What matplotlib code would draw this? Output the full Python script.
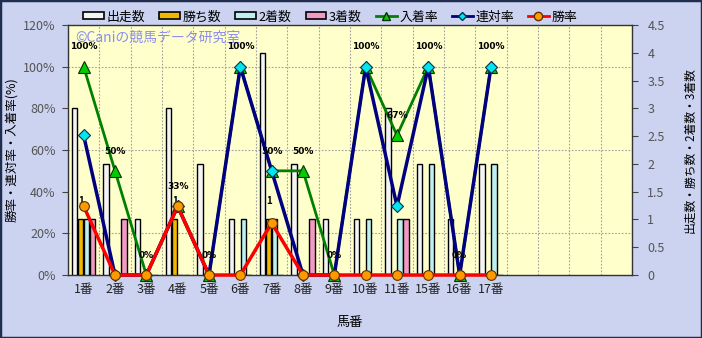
import numpy as np
import matplotlib
matplotlib.use("Agg")
import matplotlib.pyplot as plt
from matplotlib.patches import Patch
from matplotlib.lines import Line2D

plt.rcParams['font.family'] = ['Noto Sans CJK JP', 'DejaVu Sans']

# ---- data ----
horses = ["1番", "2番", "3番", "4番", "5番", "6番", "7番", "8番", "9番", "10番", "11番", "15番", "16番", "17番"]
n_slots = 18
starts = [3, 2, 1, 3, 2, 1, 4, 2, 1, 1, 3, 2, 1, 2]
wins = [1, 0, 0, 1, 0, 0, 1, 0, 0, 0, 0, 0, 0, 0]
seconds = [1, 0, 0, 0, 0, 1, 1, 0, 0, 1, 1, 2, 0, 2]
thirds = [1, 1, 0, 0, 0, 0, 0, 1, 0, 0, 1, 0, 0, 0]
place_rate = [100, 50, 0, 33, 0, 100, 50, 50, 0, 100, 67, 100, 0, 100]
top2_rate = [67, 0, 0, 33, 0, 100, 50, 0, 0, 100, 33, 100, 0, 100]
win_rate = [33, 0, 0, 33, 0, 0, 25, 0, 0, 0, 0, 0, 0, 0]

W, H = 702, 338
fig = plt.figure(figsize=(W / 100, H / 100), dpi=100)
fig.patch.set_facecolor('#ccd3f0')

# border
fig.add_artist(plt.Rectangle((0, 0), 1, 1, transform=fig.transFigure, fill=False,
                             edgecolor='#1f2d4f', linewidth=2.5))

left, right, top, bottom = 68, 632, 25, 275
rect = [left / W, 1 - bottom / H, (right - left) / W, (bottom - top) / H]

ax = fig.add_axes(rect)  # bars, right scale
ax2 = ax.twinx()  # lines, left scale
ax.set_facecolor('#ffffcc')
ax2.patch.set_visible(False)

x = np.arange(len(horses))
bw = 0.19
bar_specs = [(starts, '#f4f4f4', '出走数'), (wins, '#f2b700', '勝ち数'),
             (seconds, '#bff0f0', '2着数'), (thirds, '#f09ac4', '3着数')]
for i, (vals, col, lab) in enumerate(bar_specs):
    ax.bar(x + (i - 1.5) * bw, vals, width=bw * 0.92, color=col, edgecolor='black',
           linewidth=1.0, zorder=3, label=lab)

ax.set_xlim(-0.5, n_slots - 0.5)
ax.set_ylim(0, 4.5)
ax.set_yticks(np.arange(0, 4.51, 0.5))
ax.set_yticklabels(['0', '0.5', '1', '1.5', '2', '2.5', '3', '3.5', '4', '4.5'])
ax.set_yticks(np.arange(0, 4.51, 0.75), minor=True)
ax.set_xticks(x)
ax.set_xticklabels(horses)
ax.set_xticks(np.arange(-0.5, n_slots, 1), minor=True)
ax.grid(which='minor', color='#a0a0a0', linestyle=(0, (1.5, 1.5)), linewidth=0.8, zorder=0)
ax.set_axisbelow(True)
ax.yaxis.tick_right()
ax.yaxis.set_label_position('right')
ax.tick_params(axis='x', which='both', length=0, labelsize=9, colors='#222222', pad=6)
ax.tick_params(axis='y', which='minor', length=0, left=False, right=False)
ax.tick_params(axis='y', which='major', length=4, direction='out', labelsize=9,
               colors='#444444', labelcolor='#555555', pad=7, left=False, right=True,
               labelleft=False, labelright=True)
for s in ax.spines.values():
    s.set_color('#333333')
    s.set_linewidth(1.0)
ax.set_ylabel('出走数・勝ち数・2着数・3着数', fontsize=8.5, rotation=90)
ax.yaxis.set_label_coords((683 - left) / (right - left), 0.5)
ax.set_xlabel('馬番', fontsize=9.5, labelpad=14)

# bar labels for wins
for xi, v in zip(x, wins):
    if v > 0:
        ax.annotate(str(v), (xi - 0.5 * bw, v), xytext=(0, 10), textcoords='offset points',
                    ha='center', va='bottom', fontsize=7, fontweight='bold', zorder=4)

ax2.set_ylim(0, 120)
ax2.set_yticks(np.arange(0, 121, 20))
ax2.set_yticklabels([f'{v}%' for v in range(0, 121, 20)])
ax2.yaxis.tick_left()
ax2.yaxis.set_label_position('left')
ax2.tick_params(axis='y', length=4, direction='out', labelsize=9, colors='#444444',
                labelcolor='#555555', pad=5, left=True, right=False,
                labelleft=True, labelright=False)
for s in ax2.spines.values():
    s.set_visible(False)
ax2.set_ylabel('勝率・連対率・入着率(%)', fontsize=9, rotation=90)
ax2.yaxis.set_label_coords((18 - left) / (right - left), 0.5)

ax2.plot(x, place_rate, color='#008000', linewidth=2, marker='^', markersize=8,
         markerfacecolor='#00cc00', markeredgecolor='#003300', markeredgewidth=0.8,
         label='入着率', zorder=3, clip_on=False)
ax2.plot(x, top2_rate, color='#000080', linewidth=2.5, marker='D', markersize=6,
         markerfacecolor='#00e5ee', markeredgecolor='#003050', markeredgewidth=0.8,
         label='連対率', zorder=4, clip_on=False)
ax2.plot(x, win_rate, color='#ff0000', linewidth=2.5, marker='o', markersize=7,
         markerfacecolor='#ff9900', markeredgecolor='#603000', markeredgewidth=0.8,
         label='勝率', zorder=5, clip_on=False)

for xi, v in zip(x, place_rate):
    ax2.annotate(f'{v}%', (xi, v), xytext=(0, 11), textcoords='offset points',
                 ha='center', va='bottom', fontsize=6.5, fontweight='bold',
                 family=['DejaVu Sans'], zorder=6)

# watermark
ax2.text(0.012, 0.975, '©Caniの競馬データ研究室', transform=ax2.transAxes,
         fontsize=10, color='#8c8cf0', ha='left', va='top', zorder=1)

# legend
handles = [Patch(facecolor=c, edgecolor='black', linewidth=1.2) for _, c, _ in bar_specs]
labels = [l for _, _, l in bar_specs]
handles += [Line2D([], [], color='#008000', lw=2, marker='^', markersize=6,
                   markerfacecolor='#00cc00', markeredgecolor='#003300'),
            Line2D([], [], color='#000080', lw=2, marker='D', markersize=4.5,
                   markerfacecolor='#00e5ee', markeredgecolor='#003050'),
            Line2D([], [], color='#ff0000', lw=2, marker='o', markersize=6,
                   markerfacecolor='#ff9900', markeredgecolor='#603000')]
labels += ['入着率', '連対率', '勝率']
fig.legend(handles, labels, loc='center', bbox_to_anchor=(330 / W, 1 - 17 / H), ncol=7,
           frameon=False, fontsize=9.3, handlelength=1.6, handleheight=0.45,
           handletextpad=0.2, columnspacing=1.1, borderpad=0)

fig.savefig('out.png', dpi=100, facecolor=fig.get_facecolor())
